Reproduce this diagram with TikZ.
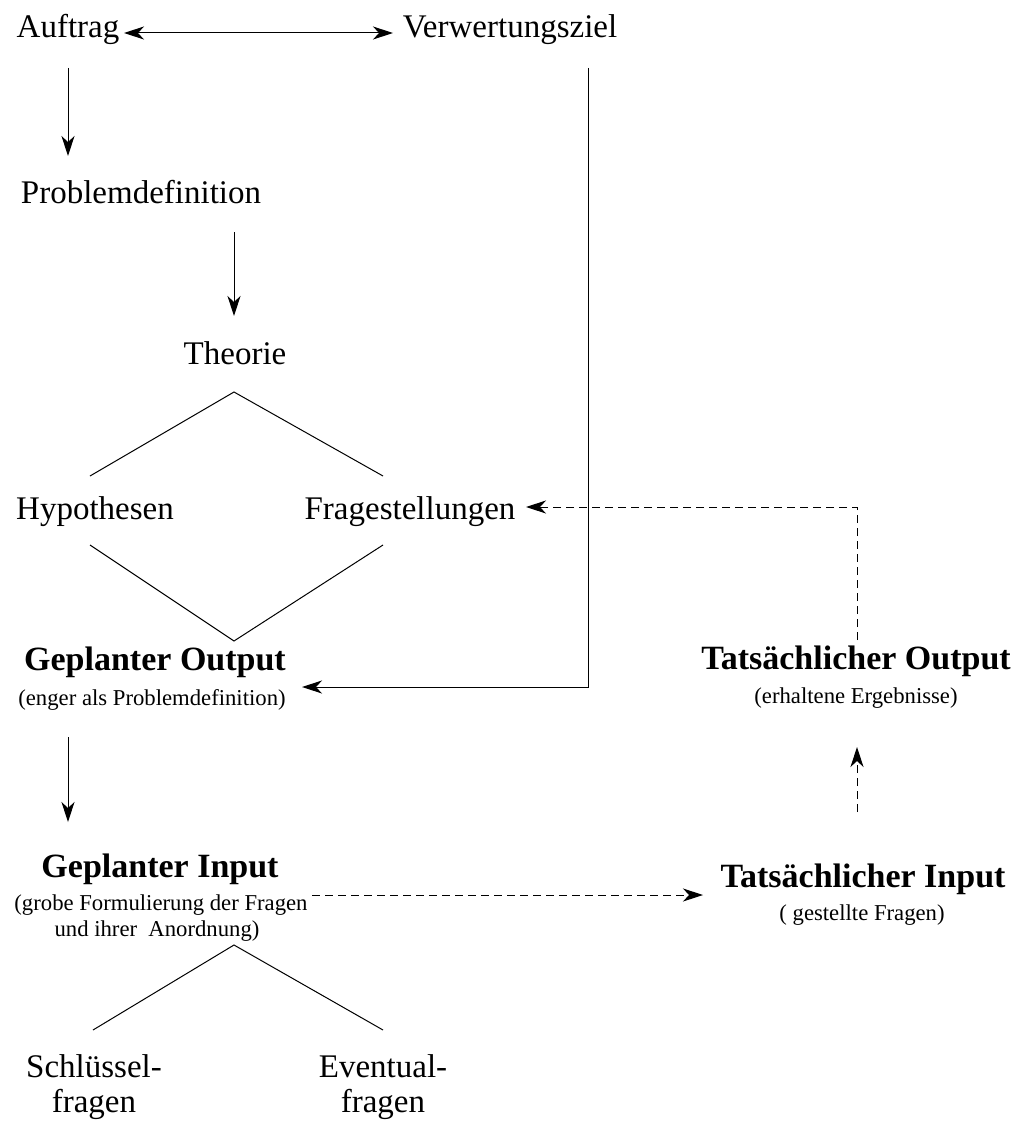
\documentclass[tikz,border=0pt]{standalone}
\usepackage{fontspec}
\setmainfont{Liberation Serif}
\usetikzlibrary{arrows.meta}
\begin{document}
\begin{tikzpicture}[x=1pt,y=-1pt,
  lbl/.style={anchor=base,inner sep=0pt,font=\fontsize{33}{37}\selectfont},
  blbl/.style={anchor=base,inner sep=0pt,font=\fontsize{34}{38}\selectfont\bfseries},
  slbl/.style={anchor=base,inner sep=0pt,font=\fontsize{22.7}{26}\selectfont},
  conn/.style={line width=1pt},
  arr/.style={conn,-{Stealth[length=20pt,width=13pt,inset=6pt]}},
  darr/.style={arr,dash pattern=on 8pt off 5pt}]
\useasboundingbox (0,0) rectangle (1019,1124);
% texts
\node[lbl] (auf) at (68,38) {Auftrag};
\node[lbl] (verw) at (510,38) {Verwertungsziel};
\node[lbl] (prob) at (141,203) {Problemdefinition};
\node[lbl] (theo) at (235,364) {Theorie};
\node[lbl] (hyp) at (95,519) {Hypothesen};
\node[lbl] (frag) at (410,519) {Fragestellungen};
\node[blbl] (gout) at (155,670) {Geplanter Output};
\node[slbl] (gouts) at (152,705) {(enger als Problemdefinition)};
\node[blbl] (tout) at (856,669) {Tatsächlicher Output};
\node[slbl] (touts) at (856,703) {(erhaltene Ergebnisse)};
\node[blbl] (gin) at (160,877) {Geplanter Input};
\node[slbl] (gins1) at (161,910) {(grobe Formulierung der Fragen};
\node[slbl] (gins2) at (157,936) {und ihrer\ \ Anordnung)};
\node[blbl] (tin) at (863,887) {Tatsächlicher Input};
\node[slbl] (tins) at (862,920) {( gestellte Fragen)};
\node[lbl] (schl1) at (94,1077) {Schlüssel-};
\node[lbl] (schl2) at (94,1112) {fragen};
\node[lbl] (ev1) at (383,1077) {Eventual-};
\node[lbl] (ev2) at (383,1112) {fragen};
% connector end points
\coordinate (aufR) at (124,33);
\coordinate (verwL) at (393,33);
\coordinate (aufD) at (68,68);
\coordinate (probU) at (68,156);
\coordinate (probD) at (234,232);
\coordinate (theoU) at (234,316);
\coordinate (theoD) at (234,392);
\coordinate (hypU) at (90,476);
\coordinate (fragU) at (383,476);
\coordinate (hypD) at (90,545);
\coordinate (fragD) at (383,545);
\coordinate (goutU) at (234,641);
\coordinate (verwD) at (588,68);
\coordinate (corner1) at (588,687);
\coordinate (goutR) at (302,687);
\coordinate (goutD) at (68,737);
\coordinate (ginU) at (68,822);
\coordinate (ginR) at (312,895);
\coordinate (tinL) at (703,895);
\coordinate (tinU) at (857,812);
\coordinate (toutD) at (857,747);
\coordinate (toutU) at (857,640);
\coordinate (corner2) at (857,507);
\coordinate (fragR) at (526,507);
\coordinate (ginD) at (234,945);
\coordinate (schlU) at (93,1030);
\coordinate (evU) at (383,1030);
% connectors
\draw[conn,{Stealth[length=20pt,width=13pt,inset=6pt]}-{Stealth[length=20pt,width=13pt,inset=6pt]}] (aufR) -- (verwL);
\draw[arr] (aufD) -- (probU);
\draw[arr] (probD) -- (theoU);
\draw[conn] (hypU) -- (theoD) -- (fragU);
\draw[conn] (hypD) -- (goutU) -- (fragD);
\draw[arr] (verwD) -- (corner1) -- (goutR);
\draw[arr] (goutD) -- (ginU);
\draw[darr] (ginR) -- (tinL);
\draw[darr] (tinU) -- (toutD);
\draw[darr] (toutU) -- (corner2) -- (fragR);
\draw[conn] (schlU) -- (ginD) -- (evU);
\end{tikzpicture}
\end{document}
